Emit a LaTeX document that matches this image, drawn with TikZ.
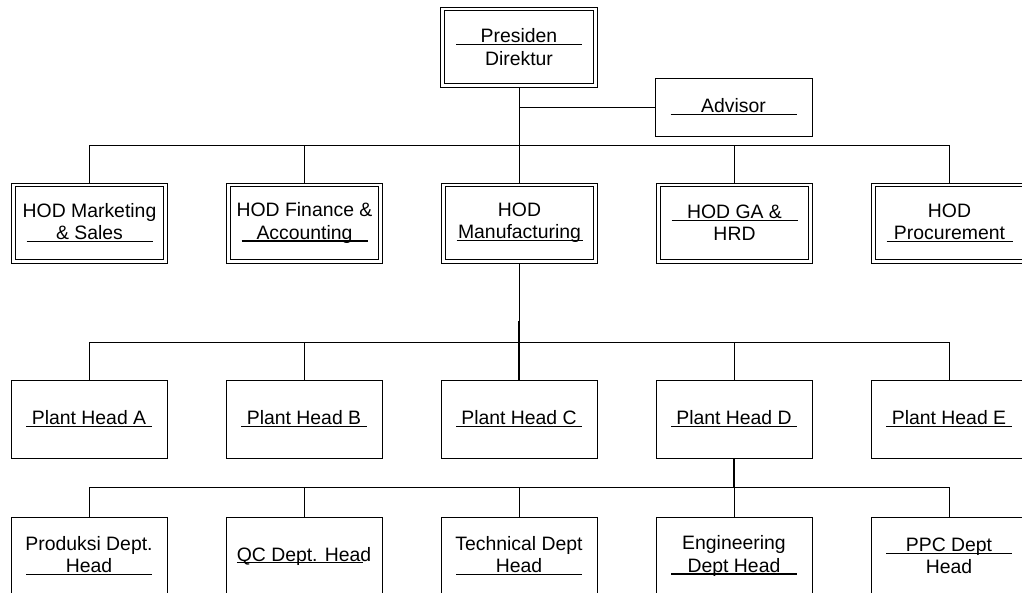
\documentclass[tikz,border=0pt]{standalone}
\usepackage{fontspec}
\setmainfont{Liberation Sans}
\usetikzlibrary{calc}
\newcommand{\ulead}[1]{\makebox[126pt][c]{\rlap{\rule[-2.4pt]{126pt}{1.1pt}}\hfill#1\hfill}}
\begin{document}
\begin{tikzpicture}[x=1pt,y=-1pt,
  font=\fontsize{19.4}{22.3}\selectfont,
  sbox/.style={draw, line width=0.9pt, minimum width=156pt, minimum height=78pt,
    inner sep=0pt, outer sep=0.45pt, align=center},
  dbox/.style={sbox, minimum height=80pt},
  inner/.style={draw, line width=0.9pt},
  conn/.style={line width=1pt}]
\useasboundingbox (0,0) rectangle (1022,592);
\clip (0,0) rectangle (1022,592);
% top
\node[dbox, minimum width=157pt] (pd) at (519,47) {\ulead{Presiden}\\Direktur};
\node[sbox, minimum width=157pt, minimum height=58pt] (adv) at (733.5,107) {\ulead{Advisor}};
% HOD row
\node[dbox] (hms) at (89.5,223) {HOD Marketing\\\ulead{\& Sales}};
\node[dbox] (hfa) at (304.5,223) {HOD Finance \&\\\ulead{Accounting}};
\node[dbox] (hmf) at (519.5,223) {HOD\\\ulead{Manufacturing}};
\node[dbox] (hga) at (734.5,223) {\ulead{HOD GA \&}\\HRD};
\node[dbox] (hpr) at (949.5,223) {HOD\\\ulead{Procurement}};
\foreach \n in {pd,hms,hfa,hmf,hga,hpr}
  \draw[inner] ($(\n.south west)+(4.3pt,4.3pt)$) rectangle ($(\n.north east)+(-4.3pt,-4.3pt)$);
% plant row
\node[sbox] (pa) at (89,419) {\ulead{Plant Head A}};
\node[sbox] (pb) at (304,419) {\ulead{Plant Head B}};
\node[sbox] (pc) at (519,419) {\ulead{Plant Head C}};
\node[sbox] (pdh) at (734,419) {\ulead{Plant Head D}};
\node[sbox] (pe) at (949,419) {\ulead{Plant Head E}};
% dept row
\node[sbox] (dp) at (89,556) {Produksi Dept.\\\ulead{Head}};
\node[sbox] (dq) at (304,556) {\ulead{QC Dept. Head}};
\node[sbox] (dt) at (519,556) {Technical Dept\\\ulead{Head}};
\node[sbox] (de) at (734,556) {Engineering\\\ulead{Dept Head}};
\node[sbox] (dc) at (949,556) {\ulead{PPC Dept}\\Head};
% buses
\coordinate (b1) at (519,145);
\coordinate (b2) at (519.5,342);
\coordinate (b3) at (734,487);
\draw[conn] (pd.south) -- (b1);
\draw[conn] (pd.south |- adv.west) -- (adv.west);
\foreach \n in {hms,hfa,hmf,hga,hpr} \draw[conn] (b1) -| (\n.north);
\draw[conn] (hmf.south) -- (b2);
\foreach \n in {pa,pb,pc,pdh,pe} \draw[conn] (b2) -| (\n.north);
\draw[line width=1.8pt] (519,321) -- (pc.north);
\draw[line width=1.5pt] (pdh.south) -- (b3);
\foreach \n in {dp,dq,dt,de,dc} \draw[conn] (b3) -| (\n.north);
\end{tikzpicture}
\end{document}
